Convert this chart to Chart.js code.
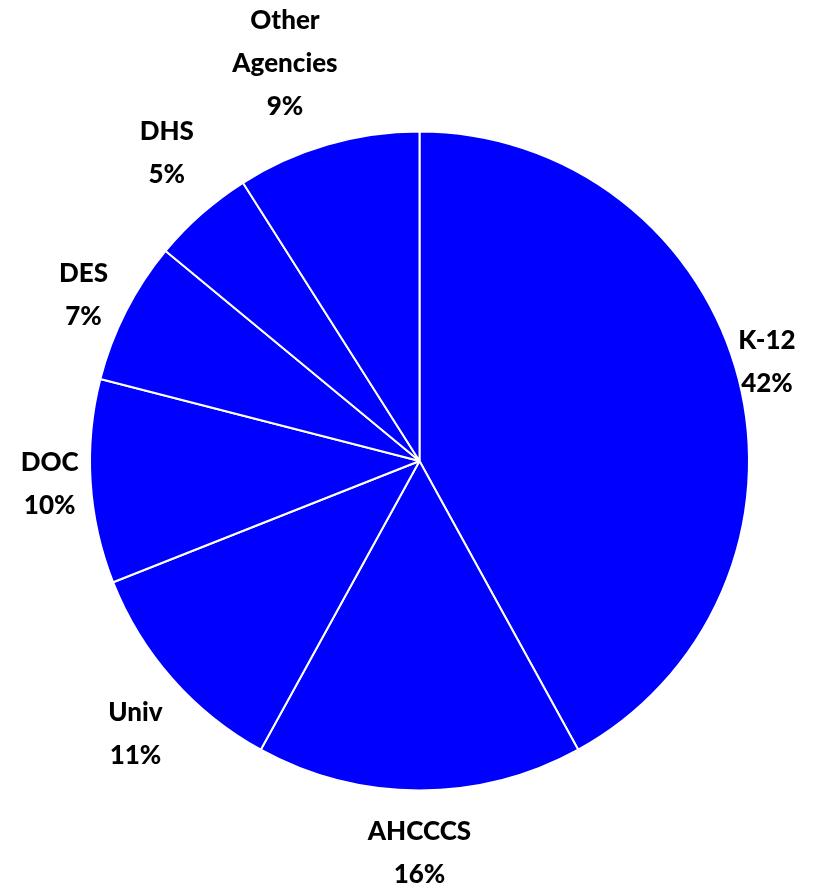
<!DOCTYPE html>
<html>
<head>
<meta charset="utf-8">
<script src="https://cdn.jsdelivr.net/npm/chart.js@4"></script>
<style>
  html, body { margin: 0; padding: 0; background: #fff; }
  #wrap { width: 826px; height: 887px; }
</style>
</head>
<body>
<div id="wrap"><canvas id="pieChart" width="826" height="887"></canvas></div>
<script>
"use strict";
var categories = ["K-12", "AHCCCS", "Univ", "DOC", "DES", "DHS", "Other Agencies"];
var labelLines = [["K-12"], ["AHCCCS"], ["Univ"], ["DOC"], ["DES"], ["DHS"], ["Other", "Agencies"]];
var shares = [42, 16, 11, 10, 7, 5, 9];

// labels drawn outside each slice, like Excel's "outside end"
var outsideLabels = {
  id: "outsideLabels",
  afterDatasetsDraw: function (chart, args, opts) {
    var ctx = chart.ctx;
    var arcs = chart.getDatasetMeta(0).data;
    ctx.save();
    ctx.font = opts.font;
    ctx.fillStyle = "#000";
    ctx.textAlign = "center";
    ctx.textBaseline = "middle";
    arcs.forEach(function (arc, i) {
      var p = arc.getProps(["x", "y", "startAngle", "endAngle", "outerRadius"], true);
      var mid = (p.startAngle + p.endAngle) / 2 + (opts.nudge[i] || 0) * Math.PI / 180;
      var lines = labelLines[i].concat([shares[i] + "%"]);
      var w = 0;
      lines.forEach(function (l) { w = Math.max(w, ctx.measureText(l).width); });
      var hw = w / 2, hh = lines.length * opts.lineHeight / 2;
      var c = Math.cos(mid), s = Math.sin(mid);
      var edge = Math.min(Math.abs(c) > 1e-6 ? hw / Math.abs(c) : 1e9,
                          Math.abs(s) > 1e-6 ? hh / Math.abs(s) : 1e9);
      var d = p.outerRadius + opts.gap + edge + (opts.push[i] || 0);
      var cx = p.x + c * d, cy = p.y + s * d;
      lines.forEach(function (l, k) {
        ctx.fillText(l, cx, cy + (k - (lines.length - 1) / 2) * opts.lineHeight);
      });
    });
    ctx.restore();
  }
};

new Chart(document.getElementById("pieChart"), {
  type: "pie",
  data: {
    labels: categories,
    datasets: [{
      data: shares,
      backgroundColor: "#0000FF",
      borderColor: "#FFFFFF",
      borderWidth: 2
    }]
  },
  options: {
    responsive: false,
    animation: false,
    layout: { padding: { top: 130, bottom: 95, left: 89, right: 76 } },
    plugins: {
      legend: { display: false },
      tooltip: { enabled: false },
      outsideLabels: {
        font: "900 26px Lato",
        gap: 12,
        lineHeight: 43,
        nudge: [-1.5, 0, -2.5, 0, -0.7, 2, -2.5],
        push: [-10, 8, 15, 0, 6, 14, 10]
      }
    }
  },
  plugins: [outsideLabels]
});
</script>
</body>
</html>
